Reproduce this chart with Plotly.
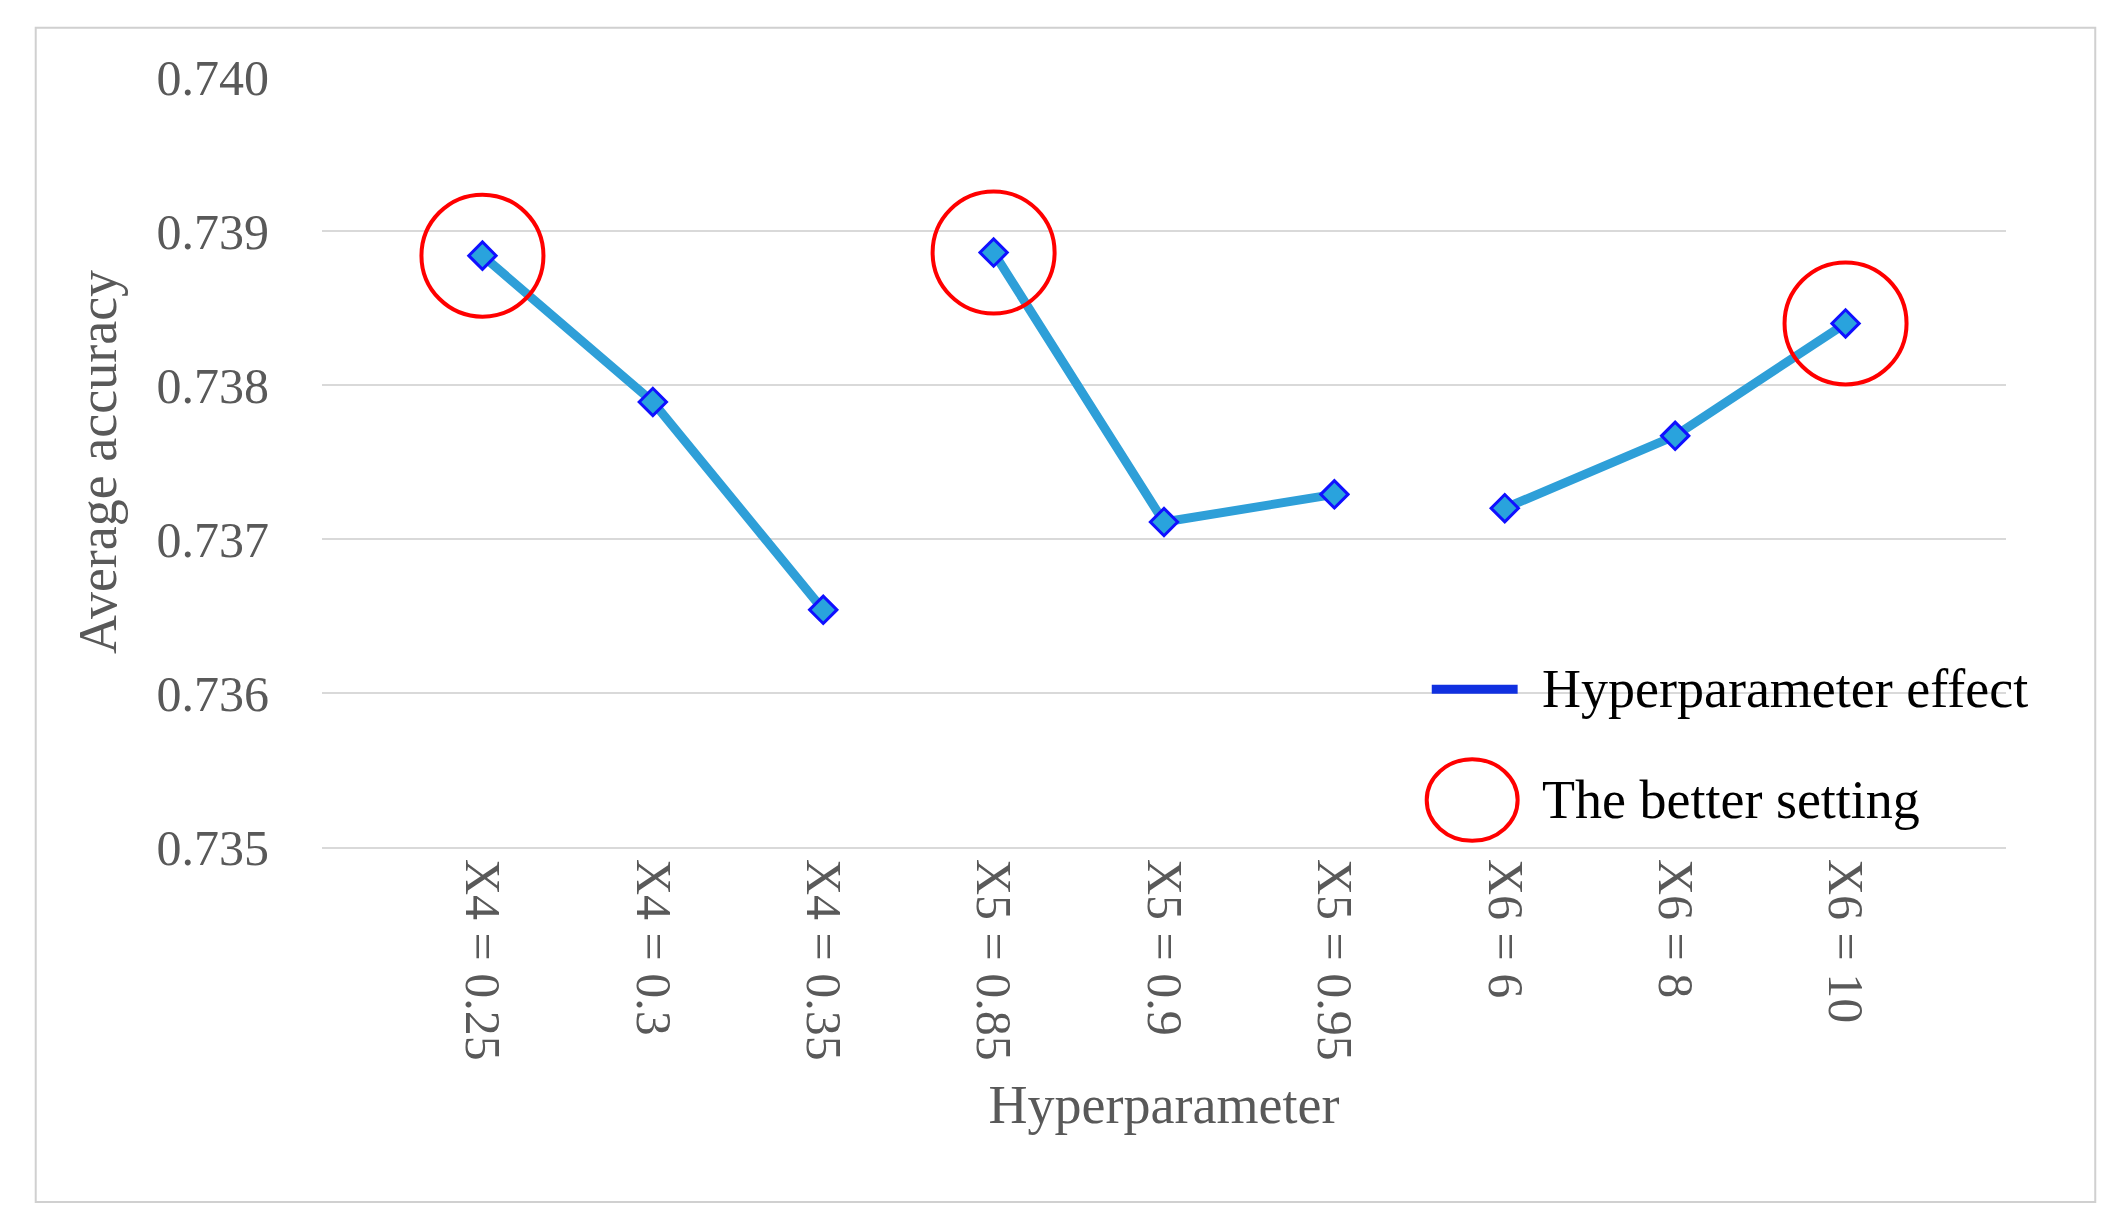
import plotly.graph_objects as go

categories = ["X4 = 0.25","X4 = 0.3","X4 = 0.35","X5 = 0.85","X5 = 0.9","X5 = 0.95","X6 = 6","X6 = 8","X6 = 10"]
values = [0.73884,0.73789,0.73654,0.73886,0.73711,0.73729,0.73720,0.73767,0.73840]
groups = [(0,3),(3,6),(6,9)]
best_idx = [0,3,8]
yticks = [0.735,0.736,0.737,0.738,0.739,0.740]
legend_labels = ["Hyperparameter effect", "The better setting"]

FONT = "Liberation Serif"
GREY = "#595959"
fig = go.Figure()
for gi,(a,b) in enumerate(groups):
    fig.add_trace(go.Scatter(x=categories[a:b], y=values[a:b], mode="lines+markers",
        line=dict(color="#2E9FD8", width=9),
        marker=dict(symbol="diamond", size=21, color="#29A3DD", line=dict(color="#1010FF", width=3)),
        showlegend=False))
fig.add_trace(go.Scatter(x=[categories[i] for i in best_idx], y=[values[i] for i in best_idx],
    mode="markers", marker=dict(symbol="circle-open", size=122, color="#FF0000", line=dict(width=4)),
    showlegend=False))

fig.update_layout(
    width=2115, height=1222, paper_bgcolor="white", plot_bgcolor="white",
    margin=dict(l=314, r=117, t=69, b=383),
    font=dict(family=FONT, color=GREY, size=50),
    showlegend=False,
    shapes=[dict(type="rect", xref="paper", yref="paper", x0=-0.170, x1=1.053, y0=-0.461, y1=1.064,
                 line=dict(color="#D0D0D0", width=2)),
            dict(type="line", xref="paper", yref="paper", x0=0.659, x1=0.710, y0=0.205, y1=0.205,
                 line=dict(color="#1030E0", width=9)),
            dict(type="circle", xref="paper", yref="paper", x0=0.656, x1=0.710, y0=0.008, y1=0.114,
                 line=dict(color="#FF0000", width=4))],
    annotations=[dict(xref="paper", yref="paper", x=0.723, y=yy, text=t, showarrow=False,
                      xanchor="left", yanchor="middle", font=dict(size=54, color="black"))
                 for t, yy in zip(legend_labels, [0.205, 0.061])],
)
fig.update_xaxes(type="category", categoryarray=categories, tickangle=90, showgrid=False,
    showline=True, linecolor="#D9D9D9", linewidth=2, ticks="", tickfont=dict(size=50, color=GREY),
    title=dict(text="Hyperparameter", font=dict(size=54, color=GREY), standoff=25))
fig.update_yaxes(range=[0.735,0.740], tickvals=yticks, ticktext=[f"{v:.3f}" for v in yticks],
    showgrid=True, gridcolor="#D9D9D9", gridwidth=2, zeroline=False, ticks="",
    tickfont=dict(size=50, color=GREY), ticklabelstandoff=52,
    title=dict(text="Average accuracy", font=dict(size=54, color=GREY), standoff=22))
fig.write_html("out.html")
